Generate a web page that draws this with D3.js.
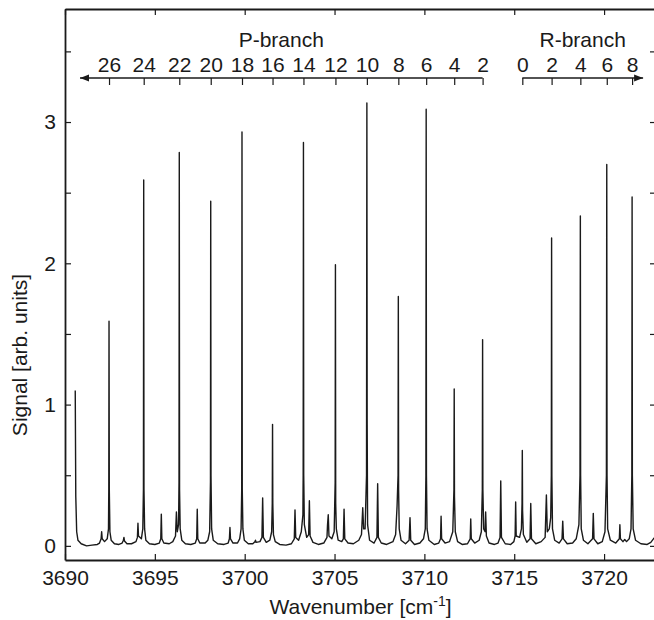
<!DOCTYPE html>
<html>
<head>
<meta charset="utf-8">
<script src="https://cdn.jsdelivr.net/npm/d3@7"></script>
<style>
  body { margin: 0; background: #fff; }
  svg text { font-family: "Liberation Sans", Arial, Helvetica, sans-serif; fill: #1a1a1a; }
</style>
</head>
<body>
<div id="chart"></div>
<script>
// tick values of the frame
var xTicks = [3690, 3695, 3700, 3705, 3710, 3715, 3720];
var yTicks = [0, 1, 2, 3];
var yMinorTicks = [0.5, 1.5, 2.5, 3.5];

// rotational line assignment (label, wavenumber)
var pLabels = [26, 24, 22, 20, 18, 16, 14, 12, 10, 8, 6, 4, 2];
var pPositions = [3692.45, 3694.38, 3696.36, 3698.11, 3699.85, 3701.55, 3703.27, 3705.05, 3706.8, 3708.55, 3710.1, 3711.66, 3713.24];
var rLabels = [0, 2, 4, 6, 8];
var rPositions = [3715.45, 3717.08, 3718.68, 3720.15, 3721.56];

var trace = [
  [3690.57, 1.10], [3690.6, 0.35], [3690.65, 0.1], [3690.72, 0.04], [3690.9, 0.015], [3691.2, 0.0], [3691.5, 0.005], [3691.8, 0.01],
  [3691.92, 0.02], [3692.01, 0.05], [3692.04, 0.10], [3692.07, 0.05],
  [3692.2, 0.03], [3692.35, 0.05], [3692.42, 0.12], [3692.437, 0.4], [3692.45, 1.59], [3692.465, 0.4], [3692.5, 0.1], [3692.57, 0.04], [3692.75, 0.015],
  [3693.0, 0.01], [3693.18, 0.02], [3693.25, 0.04], [3693.28, 0.06], [3693.31, 0.035], [3693.45, 0.015], [3693.7, 0.015],
  [3693.95, 0.03], [3694.03, 0.06], [3694.06, 0.16], [3694.09, 0.07],
  [3694.25, 0.05], [3694.33, 0.12], [3694.365, 0.4], [3694.38, 2.59], [3694.395, 0.4], [3694.43, 0.12], [3694.5, 0.04], [3694.7, 0.015],
  [3695.0, 0.01], [3695.25, 0.02], [3695.33, 0.05], [3695.36, 0.225], [3695.39, 0.05], [3695.5, 0.02], [3695.8, 0.015], [3696.0, 0.03],
  [3696.15, 0.07], [3696.2, 0.24], [3696.25, 0.1],
  [3696.32, 0.15], [3696.345, 0.45], [3696.36, 2.785], [3696.375, 0.4], [3696.41, 0.12], [3696.5, 0.04], [3696.7, 0.015],
  [3697.0, 0.01], [3697.25, 0.02], [3697.33, 0.05], [3697.36, 0.26], [3697.39, 0.05], [3697.5, 0.02], [3697.8, 0.02],
  [3697.95, 0.04], [3698.05, 0.1], [3698.095, 0.45], [3698.11, 2.44], [3698.125, 0.5], [3698.16, 0.12], [3698.25, 0.04], [3698.5, 0.015],
  [3698.85, 0.01], [3699.08, 0.02], [3699.15, 0.05], [3699.18, 0.13], [3699.21, 0.05], [3699.35, 0.02], [3699.6, 0.02],
  [3699.72, 0.05], [3699.8, 0.12], [3699.835, 0.4], [3699.85, 2.93], [3699.865, 0.4], [3699.9, 0.12], [3699.98, 0.04], [3700.2, 0.015],
  [3700.45, 0.015], [3700.57, 0.03], [3700.6, 0.04], [3700.63, 0.025], [3700.85, 0.03],
  [3700.96, 0.06], [3701.0, 0.34], [3701.04, 0.06], [3701.2, 0.025], [3701.4, 0.04],
  [3701.5, 0.1], [3701.535, 0.3], [3701.55, 0.86], [3701.565, 0.3], [3701.6, 0.08], [3701.7, 0.03], [3701.95, 0.01],
  [3702.3, 0.005], [3702.6, 0.015], [3702.76, 0.05], [3702.8, 0.255], [3702.84, 0.06], [3703.0, 0.04], [3703.15, 0.1],
  [3703.24, 0.22], [3703.255, 0.5], [3703.27, 2.855], [3703.285, 0.5], [3703.32, 0.15], [3703.45, 0.06],
  [3703.56, 0.08], [3703.6, 0.32], [3703.64, 0.07], [3703.8, 0.025], [3704.1, 0.01], [3704.4, 0.02],
  [3704.58, 0.06], [3704.61, 0.15], [3704.65, 0.22], [3704.69, 0.07], [3704.85, 0.05],
  [3704.98, 0.1], [3705.035, 0.45], [3705.05, 1.99], [3705.065, 0.3], [3705.1, 0.12], [3705.2, 0.04],
  [3705.4, 0.03], [3705.49, 0.05], [3705.53, 0.26], [3705.57, 0.05], [3705.75, 0.02], [3706.05, 0.015], [3706.35, 0.04],
  [3706.5, 0.08], [3706.57, 0.27], [3706.62, 0.12],
  [3706.7, 0.12], [3706.78, 0.5], [3706.8, 3.135], [3706.815, 0.9], [3706.84, 0.15], [3706.95, 0.04], [3707.2, 0.02],
  [3707.36, 0.06], [3707.4, 0.44], [3707.44, 0.06], [3707.6, 0.02], [3707.9, 0.01], [3708.25, 0.03],
  [3708.4, 0.08], [3708.48, 0.28], [3708.535, 0.5], [3708.55, 1.765], [3708.565, 0.4], [3708.6, 0.12], [3708.7, 0.04], [3708.95, 0.015],
  [3709.15, 0.04], [3709.2, 0.2], [3709.24, 0.04], [3709.45, 0.01], [3709.75, 0.02],
  [3709.95, 0.05], [3710.05, 0.12], [3710.085, 0.5], [3710.1, 3.09], [3710.115, 0.5], [3710.15, 0.12], [3710.25, 0.04], [3710.55, 0.01],
  [3710.8, 0.02], [3710.9, 0.05], [3710.93, 0.21], [3710.96, 0.05], [3711.15, 0.02], [3711.4, 0.03],
  [3711.58, 0.1], [3711.645, 0.4], [3711.66, 1.11], [3711.675, 0.35], [3711.72, 0.1], [3711.85, 0.03], [3712.1, 0.01],
  [3712.4, 0.015], [3712.55, 0.05], [3712.58, 0.19], [3712.61, 0.05], [3712.8, 0.02], [3713.05, 0.04],
  [3713.17, 0.1], [3713.225, 0.4], [3713.24, 1.46], [3713.255, 0.4], [3713.3, 0.12],
  [3713.38, 0.1], [3713.41, 0.24], [3713.45, 0.07], [3713.6, 0.02], [3713.9, 0.01], [3714.1, 0.02],
  [3714.21, 0.06], [3714.25, 0.46], [3714.29, 0.06], [3714.5, 0.015], [3714.8, 0.01], [3714.98, 0.03],
  [3715.05, 0.07], [3715.08, 0.31], [3715.11, 0.07], [3715.3, 0.06],
  [3715.4, 0.12], [3715.435, 0.3], [3715.45, 0.675], [3715.465, 0.25], [3715.51, 0.08], [3715.7, 0.025],
  [3715.88, 0.05], [3715.92, 0.30], [3715.96, 0.05], [3716.2, 0.015], [3716.5, 0.03],
  [3716.72, 0.06], [3716.79, 0.36], [3716.84, 0.1], [3716.95, 0.12],
  [3717.03, 0.2], [3717.065, 0.5], [3717.08, 2.18], [3717.095, 0.5], [3717.13, 0.12], [3717.25, 0.04], [3717.5, 0.02],
  [3717.66, 0.05], [3717.7, 0.175], [3717.74, 0.05], [3717.95, 0.015], [3718.25, 0.02], [3718.45, 0.05],
  [3718.6, 0.15], [3718.66, 0.5], [3718.68, 2.335], [3718.695, 0.5], [3718.73, 0.12], [3718.85, 0.04], [3719.1, 0.015],
  [3719.36, 0.05], [3719.4, 0.23], [3719.44, 0.05], [3719.65, 0.015], [3719.9, 0.03],
  [3720.05, 0.1], [3720.13, 0.5], [3720.15, 2.70], [3720.165, 0.5], [3720.2, 0.12], [3720.35, 0.04], [3720.65, 0.02],
  [3720.85, 0.05], [3720.88, 0.15], [3720.91, 0.05], [3721.05, 0.03], [3721.15, 0.045], [3721.25, 0.03], [3721.4, 0.05],
  [3721.5, 0.12], [3721.545, 0.5], [3721.56, 2.47], [3721.575, 0.5], [3721.62, 0.12], [3721.75, 0.04], [3722.05, 0.015],
  [3722.4, 0.01], [3722.6, 0.025], [3722.75, 0.05], [3722.83, 0.06]
];

var width = 654, height = 620;
var plot = {left: 65, right: 656, top: 9, bottom: 560};
var fontSize = 21;

var svg = d3.select('#chart')
  .append('svg')
    .attr('width', width)
    .attr('height', height);

var x = d3.scaleLinear()
  .domain([3690, 3722.89])
  .range([plot.left, plot.right]);

var y = d3.scaleLinear()
  .domain([-0.1, 3.8])
  .range([plot.bottom, plot.top]);

// helper to style an axis group
function styleAxis(g, labels) {
  g.select('.domain').attr('stroke', '#1a1a1a').attr('stroke-width', 1.8);
  g.selectAll('.tick line').attr('stroke', '#1a1a1a').attr('stroke-width', 1.2);
  g.selectAll('.tick text').attr('font-size', fontSize + 'px').attr('fill', '#1a1a1a');
  if (!labels) g.selectAll('.tick text').remove();
}

// bottom axis with labels, ticks pointing inwards
svg.append('g')
  .attr('transform', 'translate(0,' + plot.bottom + ')')
  .call(d3.axisBottom(x).tickValues(xTicks).tickFormat(d3.format('d'))
    .tickSizeInner(-6).tickSizeOuter(0).tickPadding(10))
  .call(styleAxis, true);

// top axis, ticks only
svg.append('g')
  .attr('transform', 'translate(0,' + plot.top + ')')
  .call(d3.axisTop(x).tickValues(xTicks).tickSizeInner(-6).tickSizeOuter(0))
  .call(styleAxis, false);

// left axis: labelled majors and unlabelled minors
svg.append('g')
  .attr('transform', 'translate(' + plot.left + ',0)')
  .call(d3.axisLeft(y).tickValues(yTicks).tickFormat(d3.format('d'))
    .tickSizeInner(-6).tickSizeOuter(0).tickPadding(9))
  .call(styleAxis, true);
svg.append('g')
  .attr('transform', 'translate(' + plot.left + ',0)')
  .call(d3.axisLeft(y).tickValues(yMinorTicks).tickSizeInner(-6).tickSizeOuter(0))
  .call(styleAxis, false)
  .select('.domain').remove();

// right axis, ticks only
svg.append('g')
  .attr('transform', 'translate(' + plot.right + ',0)')
  .call(d3.axisRight(y).tickValues(yTicks.concat(yMinorTicks)).tickSizeInner(-6).tickSizeOuter(0))
  .call(styleAxis, false);

// spectrum trace
var line = d3.line()
  .x(function(d) { return x(d[0]); })
  .y(function(d) { return y(d[1]); });

svg.append('path')
  .datum(trace)
  .attr('fill', 'none')
  .attr('stroke', '#1a1a1a')
  .attr('stroke-width', 1.4)
  .attr('stroke-linejoin', 'round')
  .attr('d', line);

// branch assignment scales drawn above the spectrum
var branchY = 78;

function drawBranch(positions, labels, title, x1, x2, arrowAt) {
  var g = svg.append('g').attr('transform', 'translate(0,' + branchY + ')');
  g.call(d3.axisTop(x).tickValues(positions)
      .tickFormat(function(d, i) { return labels[i]; })
      .tickSizeInner(-7).tickSizeOuter(0).tickPadding(6))
    .call(styleAxis, true);
  g.select('.domain').remove();

  g.append('line')
    .attr('x1', x1).attr('x2', x2)
    .attr('y1', 0).attr('y2', 0)
    .attr('stroke', '#1a1a1a')
    .attr('stroke-width', 1.3);

  // arrow head
  var dir = arrowAt === x1 ? -1 : 1;
  g.append('path')
    .attr('d', 'M' + arrowAt + ',0 L' + (arrowAt - dir * 9) + ',-3.5 L' + (arrowAt - dir * 9) + ',3.5 Z')
    .attr('fill', '#1a1a1a');

  svg.append('text')
    .attr('x', (x1 + x2) / 2)
    .attr('y', 47)
    .attr('text-anchor', 'middle')
    .attr('font-size', fontSize + 'px')
    .text(title);
}

var pLeft = x(pPositions[0]) - 29, pRight = x(pPositions[pPositions.length - 1]);
drawBranch(pPositions, pLabels, 'P-branch', pLeft, pRight, pLeft);

var rLeft = x(rPositions[0]), rRight = x(rPositions[rPositions.length - 1]) + 11;
drawBranch(rPositions, rLabels, 'R-branch', rLeft, rRight, rRight);

// axis titles
var xTitle = svg.append('text')
  .attr('x', (plot.left + plot.right) / 2)
  .attr('y', 614)
  .attr('text-anchor', 'middle')
  .attr('font-size', fontSize + 'px');
xTitle.append('tspan').text('Wavenumber [cm');
xTitle.append('tspan').attr('dy', -8).attr('font-size', '14px').text('-1');
xTitle.append('tspan').attr('dy', 8).text(']');

svg.append('text')
  .attr('transform', 'translate(27,' + 355 + ') rotate(-90)')
  .attr('text-anchor', 'middle')
  .attr('font-size', fontSize + 'px')
  .text('Signal [arb. units]');
</script>
</body>
</html>
